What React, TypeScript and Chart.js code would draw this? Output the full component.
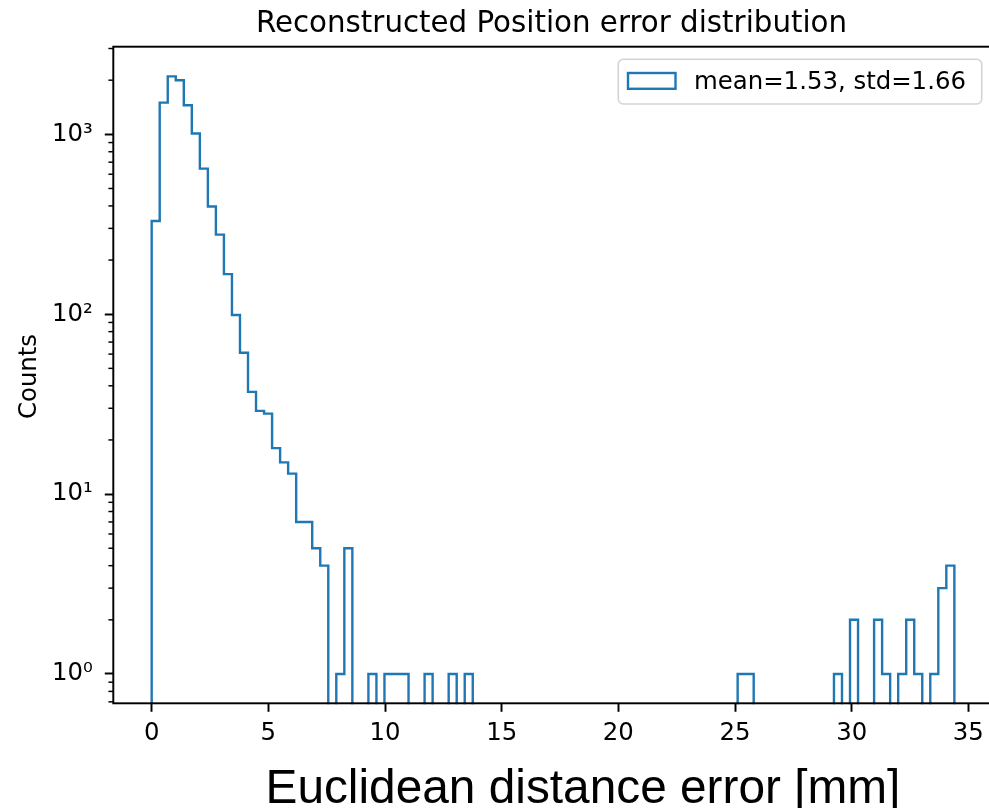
import React, { useEffect, useRef } from 'react';
import { Chart, registerables } from 'chart.js';

Chart.register(...registerables);

// ---- text ----
const TITLE = 'Reconstructed Position error distribution';
const X_LABEL = 'Euclidean distance error [mm]';
const Y_LABEL = 'Counts';
const SERIES_LABEL = 'mean=1.53, std=1.66';

// ---- histogram (100 equal bins between BIN_START and BIN_END) ----
const BIN_START = 0;
const BIN_END = 34.4;
const BIN_COUNTS = [
  330, 1500, 2100, 2000, 1450, 1010, 645, 397, 277, 167,
  99, 61, 37, 29, 28, 18, 15, 13, 7, 7,
  5, 4, 0, 1, 5, 0, 0, 1, 0, 1,
  1, 1, 0, 0, 1, 0, 0, 1, 0, 1,
  0, 0, 0, 0, 0, 0, 0, 0, 0, 0,
  0, 0, 0, 0, 0, 0, 0, 0, 0, 0,
  0, 0, 0, 0, 0, 0, 0, 0, 0, 0,
  0, 0, 0, 1, 1, 0, 0, 0, 0, 0,
  0, 0, 0, 0, 0, 1, 0, 2, 0, 0,
  2, 1, 0, 1, 2, 1, 0, 1, 3, 4,
];

// ---- axes ----
const X_TICKS = [0, 5, 10, 15, 20, 25, 30, 35];
const Y_TICKS = [1, 10, 100, 1000];
const Y_TICK_LABELS = ['10⁰', '10¹', '10²', '10³'];
const Y_MINOR_MULTIPLIERS = [2, 3, 4, 5, 6, 7, 8, 9];
const X_MIN = -1.645;
const X_MAX = 36.12;
const Y_MIN = 0.687;
const Y_MAX = 3070;
// empty bins are drawn at this (off-axis) floor so the step outline drops to the bottom
const EMPTY_BIN_FLOOR = 0.001;

const BLUE = '#1f77b4';
const FONT = 'DejaVu Sans';

function buildPoints() {
  const n = BIN_COUNTS.length;
  const w = (BIN_END - BIN_START) / n;
  const pts: { x: number; y: number }[] = [];
  pts.push({ x: BIN_START, y: EMPTY_BIN_FLOOR });
  for (let i = 0; i < n; i++) {
    const c = BIN_COUNTS[i];
    pts.push({ x: BIN_START + i * w, y: c > 0 ? c : EMPTY_BIN_FLOOR });
  }
  pts.push({ x: BIN_END, y: EMPTY_BIN_FLOOR });
  return pts;
}

const decorPlugin = {
  id: 'mplDecor',
  afterDatasetsDraw(chart: any) {
    const { ctx, chartArea } = chart;
    const { left, right, top, bottom } = chartArea;
    const yScale = chart.scales.y;
    ctx.save();
    // minor ticks on log axis
    ctx.strokeStyle = '#000';
    ctx.lineWidth = 1.46;
    for (let e = -1; e <= 4; e++) {
      for (const m of Y_MINOR_MULTIPLIERS) {
        const v = m * Math.pow(10, e);
        if (v < Y_MIN || v > Y_MAX) continue;
        const py = yScale.getPixelForValue(v);
        ctx.beginPath();
        ctx.moveTo(left - 4.9, py);
        ctx.lineTo(left, py);
        ctx.stroke();
      }
    }
    // frame
    ctx.lineWidth = 1.95;
    ctx.strokeStyle = '#000';
    ctx.strokeRect(left, top, right - left, bottom - top);
    ctx.restore();
  },
  afterDraw(chart: any) {
    const { ctx } = chart;
    ctx.save();
    ctx.fillStyle = '#000';
    // title
    ctx.font = `29.3px "${FONT}"`;
    ctx.textAlign = 'center';
    ctx.textBaseline = 'alphabetic';
    ctx.fillText(TITLE, 551.5, 31.5);
    // y label
    ctx.save();
    ctx.translate(35.5, 376.5);
    ctx.rotate(-Math.PI / 2);
    ctx.font = `24.4px "${FONT}"`;
    ctx.textAlign = 'center';
    ctx.fillText(Y_LABEL, 0, 0);
    ctx.restore();
    // x label
    ctx.font = '47.8px "Liberation Sans"';
    ctx.textAlign = 'left';
    ctx.fillText(X_LABEL, 265.5, 803);
    // legend
    const lx = 618.3, ly = 59.3, lw = 363.4, lh = 44.7, r = 5;
    ctx.beginPath();
    ctx.moveTo(lx + r, ly);
    ctx.arcTo(lx + lw, ly, lx + lw, ly + lh, r);
    ctx.arcTo(lx + lw, ly + lh, lx, ly + lh, r);
    ctx.arcTo(lx, ly + lh, lx, ly, r);
    ctx.arcTo(lx, ly, lx + lw, ly, r);
    ctx.closePath();
    ctx.fillStyle = 'rgba(255,255,255,0.8)';
    ctx.fill();
    ctx.strokeStyle = '#d3d3d3';
    ctx.lineWidth = 1.6;
    ctx.stroke();
    ctx.strokeStyle = BLUE;
    ctx.lineWidth = 2.4;
    ctx.strokeRect(628, 73, 47.5, 15.8);
    ctx.fillStyle = '#000';
    ctx.font = `24.4px "${FONT}"`;
    ctx.textAlign = 'left';
    ctx.fillText(chart.data.datasets[0].label, 694, 89);
    ctx.restore();
  },
};

export default function App() {
  const ref = useRef<HTMLCanvasElement | null>(null);
  useEffect(() => {
    if (!ref.current) return;
    const chart = new Chart(ref.current, {
      type: 'line',
      data: {
        datasets: [
          {
            label: SERIES_LABEL,
            data: buildPoints(),
            stepped: 'before',
            borderColor: BLUE,
            borderWidth: 2.4,
            pointRadius: 0,
            fill: false,
            tension: 0,
            borderJoinStyle: 'miter',
            clip: 1,
          } as any,
        ],
      },
      options: {
        animation: false,
        responsive: false,
        events: [],
        layout: { padding: { left: 0, top: 46.7, right: 5.5, bottom: 0 } },
        plugins: {
          legend: { display: false },
          title: { display: false },
          tooltip: { enabled: false },
        },
        scales: {
          x: {
            type: 'linear',
            min: X_MIN,
            max: X_MAX,
            afterBuildTicks: (s: any) => {
              s.ticks = X_TICKS.map((value) => ({ value }));
            },
            afterFit: (s: any) => {
              s.height = 808 - 703.3;
            },
            ticks: {
              autoSkip: false,
              maxRotation: 0,
              padding: 7.5,
              color: '#000',
              font: { family: FONT, size: 24.4 },
              callback: (v: any) => String(v),
            },
            grid: {
              drawOnChartArea: false,
              drawTicks: true,
              tickLength: 8.5,
              tickWidth: 1.95,
              tickColor: '#000',
            },
            border: { display: false },
          },
          y: {
            type: 'logarithmic',
            min: Y_MIN,
            max: Y_MAX,
            afterBuildTicks: (s: any) => {
              s.ticks = Y_TICKS.map((value) => ({ value, major: true }));
            },
            afterFit: (s: any) => {
              s.width = 113.3;
            },
            ticks: {
              autoSkip: false,
              padding: 12,
              color: '#000',
              font: { family: FONT, size: 24.4 },
              callback: (v: any) => {
                const i = Y_TICKS.indexOf(Number(v));
                return i >= 0 ? Y_TICK_LABELS[i] : '';
              },
            },
            grid: {
              drawOnChartArea: false,
              drawTicks: true,
              tickLength: 8.5,
              tickWidth: 1.95,
              tickColor: '#000',
            },
            border: { display: false },
          },
        },
      },
      plugins: [decorPlugin],
    });
    return () => chart.destroy();
  }, []);
  return (
    <div
      style={{
        position: 'fixed',
        left: 0,
        top: 0,
        width: 989,
        height: 808,
        overflow: 'hidden',
        background: '#fff',
      }}
    >
      <canvas
        ref={ref}
        width={1000}
        height={808}
        style={{ width: '1000px', height: '808px', display: 'block' }}
      />
    </div>
  );
}
